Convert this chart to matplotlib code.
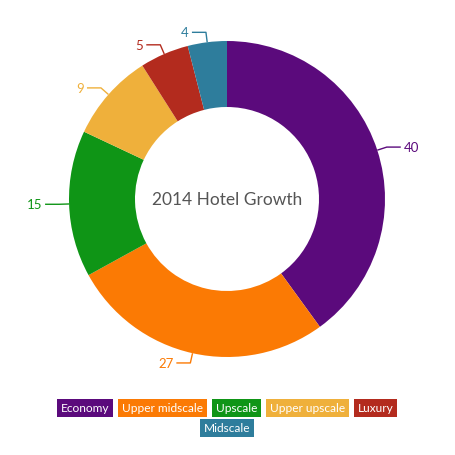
import numpy as np
import matplotlib
matplotlib.use("Agg")
import matplotlib.pyplot as plt

categories = ["Economy", "Upper midscale", "Upscale", "Upper upscale", "Luxury", "Midscale"]
values = [40, 27, 15, 9, 5, 4]
colors = ["#5b0a7c", "#fb7a04", "#0f9516", "#efb03b", "#b32b1e", "#2e7d9c"]
title = "2014 Hotel Growth"

plt.rcParams["font.family"] = ["Lato", "DejaVu Sans"]

W = H = 456
fig = plt.figure(figsize=(W / 100, H / 100), dpi=100)
ax = fig.add_axes([0, 0, 1, 1])

cx, cy = 227, H - 200
r_out, r_in = 158, 92
wedges, _ = ax.pie(values, radius=r_out, center=(cx, cy), startangle=90, counterclock=False,
                   colors=colors, wedgeprops=dict(width=r_out - r_in, linewidth=0))
ax.set_xlim(0, W)
ax.set_ylim(0, H)
ax.set_aspect("equal")
ax.axis("off")

ax.text(cx, cy, title, ha="center", va="center", fontsize=12.5, color="#555555")

# value labels with elbow leader lines
for w, v, c in zip(wedges, values, colors):
    ang = np.deg2rad((w.theta1 + w.theta2) / 2)
    x0, y0 = cx + r_out * np.cos(ang), cy + r_out * np.sin(ang)
    x1, y1 = cx + (r_out + 10) * np.cos(ang), cy + (r_out + 10) * np.sin(ang)
    side = 1 if np.cos(ang) >= 0 else -1
    x2 = x1 + side * 14
    ax.plot([x0, x1, x2], [y0, y1, y1], color=c, lw=1, solid_capstyle="butt")
    ax.text(x2 + side * 3, y1, str(v), ha="left" if side > 0 else "right", va="center",
            fontsize=9.5, color=c)

# legend boxes, flowed in rows and centred
rows = [categories[:5], categories[5:]]
row_y = [H - 409, H - 429]
fig.canvas.draw()
renderer = fig.canvas.get_renderer()
for row, y in zip(rows, row_y):
    texts = []
    for name in row:
        c = colors[categories.index(name)]
        t = ax.text(0, y, name, ha="left", va="center", fontsize=8.6, color="white",
                    bbox=dict(boxstyle="square,pad=0.32", fc=c, ec="none"))
        texts.append(t)
    fig.canvas.draw()
    widths = [t.get_bbox_patch().get_window_extent(renderer).width for t in texts]
    gap = 5
    total = sum(widths) + gap * (len(widths) - 1)
    x = cx - total / 2
    for t, wd in zip(texts, widths):
        pad = (wd - t.get_window_extent(renderer).width) / 2
        t.set_x(x + pad)
        x += wd + gap

fig.savefig("out.png", dpi=100)
